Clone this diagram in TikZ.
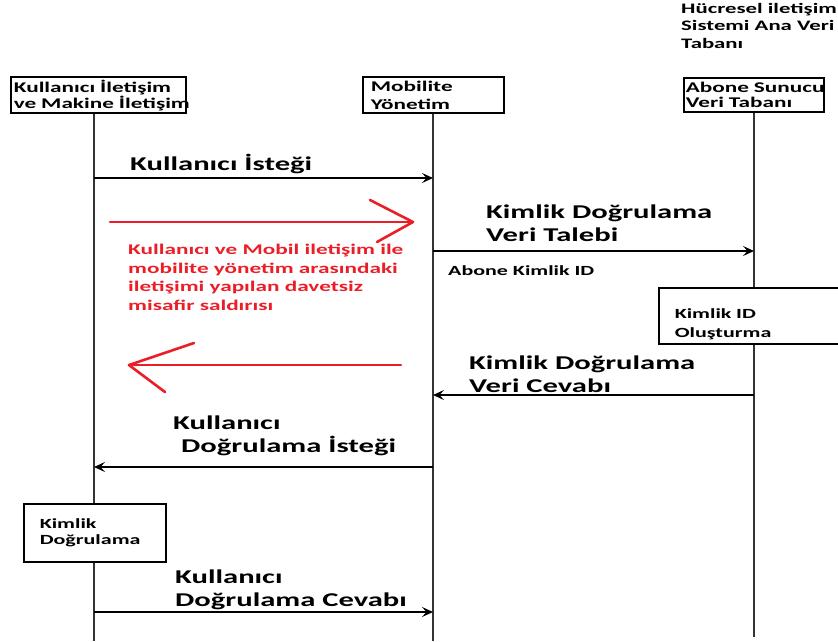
\documentclass[tikz,border=0pt]{standalone}
\usepackage{fontspec}
\setmainfont{Carlito}
\newfontfamily\lbl[FakeStretch=1.57]{Carlito Bold}
\usetikzlibrary{arrows.meta}
\definecolor{attack}{RGB}{235,30,40}
\begin{document}
\begin{tikzpicture}[x=1pt,y=-1pt,
  headbox/.style={draw=black, line width=1.6pt, fill=white, anchor=north west,
    align=left, inner ysep=0pt, font=\lbl\fontsize{14.8}{16}\selectfont},
  stepbox/.style={draw=black, line width=1.6pt, fill=white, anchor=north west,
    align=left, inner ysep=0pt, font=\lbl\fontsize{14}{16.5}\selectfont},
  msg/.style={anchor=base west, align=left, inner sep=0pt,
    font=\lbl\fontsize{19.5}{23}\selectfont},
  small/.style={anchor=base west, align=left, inner sep=0pt,
    font=\lbl\fontsize{14}{17}\selectfont},
  note/.style={anchor=base west, align=left, inner sep=0pt, text=attack,
    font=\lbl\fontsize{14.8}{18.5}\selectfont},
  life/.style={draw=black!80, line width=2pt},
  call/.style={draw=black, line width=1.3pt, -{Stealth[length=11pt,width=10pt,inset=4.5pt]}},
  redarr/.style={draw=attack, line width=2.6pt, line cap=round, line join=round}]
\useasboundingbox (0,0) rectangle (838,641);
\clip (0,0) rectangle (838,641);

% lifeline heads
\node[headbox, minimum width=175, minimum height=36, text width=169, inner xsep=3]
  (usr) at (10,76) {\rule{0pt}{14pt}\mbox{Kullanıcı İletişim}\\\mbox{ve Makine İletişim}};
\node[headbox, minimum width=141, minimum height=36, text width=125, inner xsep=8,
  font=\lbl\fontsize{14.8}{18}\selectfont]
  (mob) at (362,76) {\rule{0pt}{11pt}Mobilite\\Yönetim};
\node[headbox, minimum width=140, minimum height=34, text width=136, inner xsep=2,
  font=\lbl\fontsize{14.8}{15.5}\selectfont]
  (sub) at (683,77) {\mbox{Abone Sunucu}\\Veri Tabanı};
\node[small, font=\lbl\fontsize{14.5}{17.5}\selectfont]
  (hlr) at (681,48) {Hücresel iletişim\\Sistemi Ana Veri\\Tabanı};

% activity boxes on the lifelines
\node[stepbox, minimum width=192, minimum height=56, text width=160, inner xsep=16,
  font=\lbl\fontsize{14}{19}\selectfont]
  (idgen) at (658,287) {\rule{0pt}{26pt}Kimlik ID\\Oluşturma};
\node[stepbox, minimum width=142, minimum height=58, text width=110, inner xsep=16]
  (auth) at (23,503) {Kimlik\\Doğrulama};

% lifeline ends
\coordinate (l1) at (94,641);
\coordinate (l2) at (433,641);
\coordinate (l3) at (754,637);

\draw[life] (l1 |- usr.south) -- (l1 |- auth.north);
\draw[life] (l1 |- auth.south) -- (l1);
\draw[life] (l2 |- mob.south) -- (l2);
\draw[life] (l3 |- sub.south) -- (l3 |- idgen.north);
\draw[life] (l3 |- idgen.south) -- (l3);

% message end points
\coordinate (m1a) at (94,178);  \coordinate (m1b) at (433,178);
\coordinate (m2a) at (433,251); \coordinate (m2b) at (754,251);
\coordinate (m3a) at (754,395); \coordinate (m3b) at (433,395);
\coordinate (m4a) at (433,467); \coordinate (m4b) at (94,467);
\coordinate (m5a) at (94,612);  \coordinate (m5b) at (433,612);

\draw[call] (m1a) -- (m1b);
\draw[call] (m2a) -- (m2b);
\draw[call] (m3a) -- (m3b);
\draw[call] (m4a) -- (m4b);
\draw[call] (m5a) -- (m5b);

% message labels (anchored at the baseline of their last line)
\node[msg] (t1) at (130,170) {Kullanıcı İsteği};
\node[msg] (t2) at (486,241) {Kimlik Doğrulama\\Veri Talebi};
\node[small] (t2b) at (448,275) {Abone Kimlik ID};
\node[msg] (t3) at (469,392) {Kimlik Doğrulama\\Veri Cevabı};
\node[msg] (t4) at (173,452) {Kullanıcı\\\hspace*{8pt}Doğrulama İsteği};
\node[msg] (t5) at (175,606) {Kullanıcı\\Doğrulama Cevabı};

% intruder between user side and mobility management
\coordinate (r1s) at (110,222); \coordinate (r1e) at (413,222);
\coordinate (r1u) at (370,200); \coordinate (r1l) at (377,242);
\draw[redarr] (r1s) -- (r1e);
\draw[redarr] (r1u) -- (r1e) -- (r1l);

\coordinate (r2s) at (401,365); \coordinate (r2e) at (129,365);
\coordinate (r2u) at (194,343); \coordinate (r2l) at (165,392);
\draw[redarr] (r2s) -- (r2e);
\draw[redarr] (r2u) -- (r2e) -- (r2l);

\node[note] (mitm) at (128,310) {Kullanıcı ve Mobil iletişim ile\\mobilite yönetim arasındaki\\iletişimi yapılan davetsiz\\misafir saldırısı};
\end{tikzpicture}
\end{document}
